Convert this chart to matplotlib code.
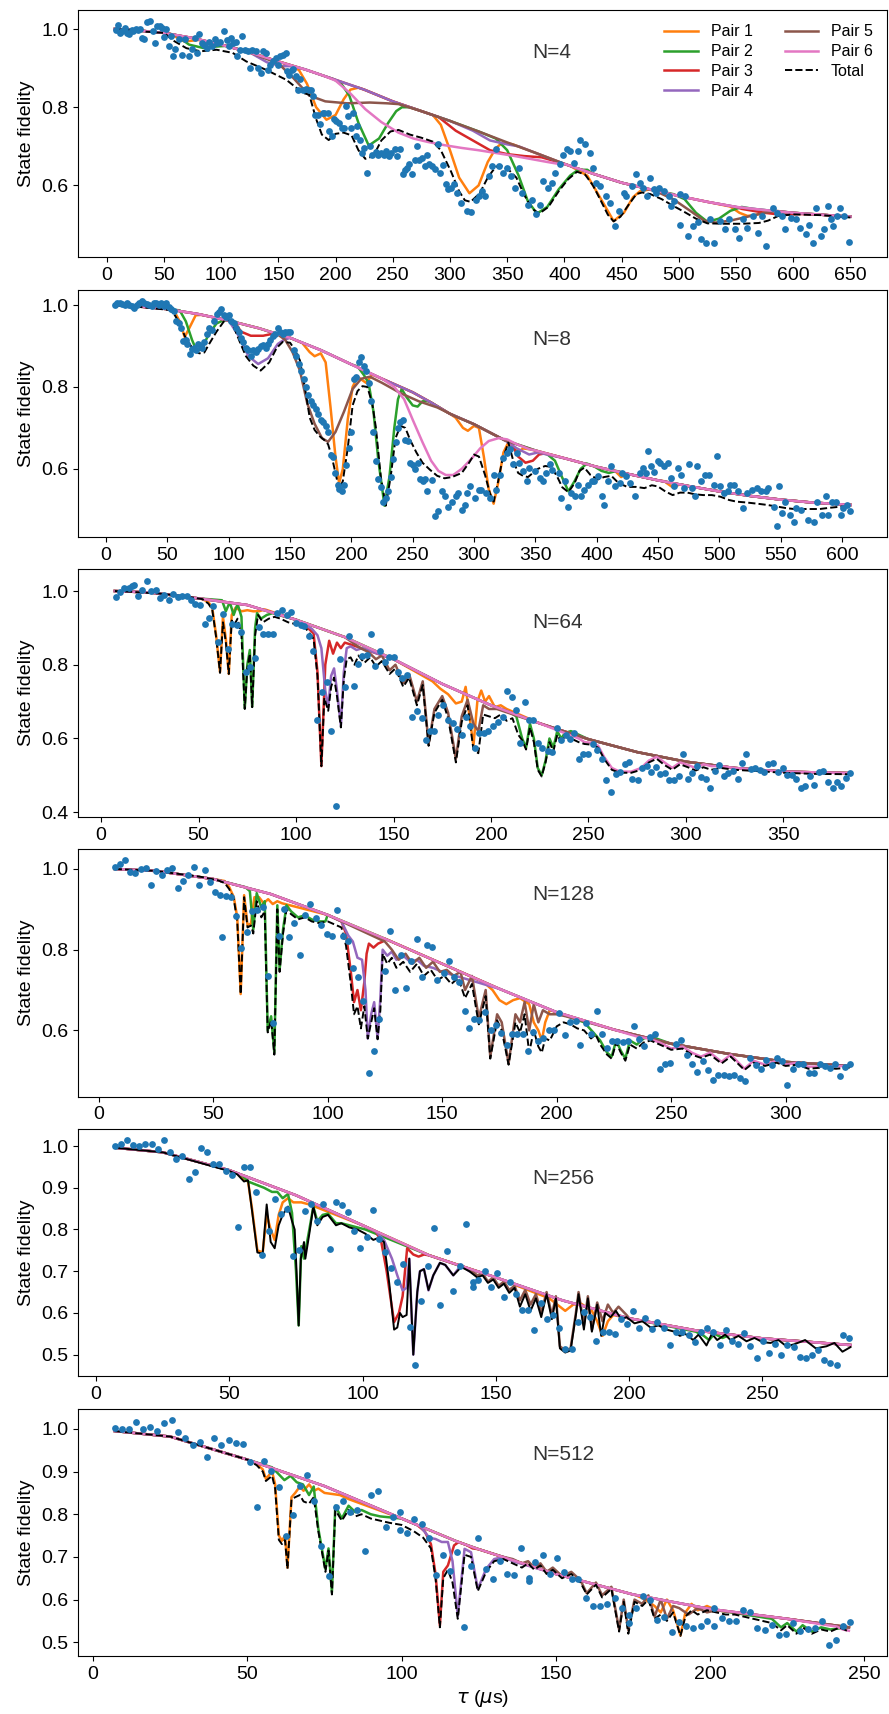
import matplotlib
matplotlib.use("Agg")
import matplotlib.pyplot as plt

plt.rcParams['font.family'] = ['Liberation Sans', 'DejaVu Sans']

# Labels and ticks
N_LABELS = ["N=4", "N=8", "N=64", "N=128", "N=256", "N=512"]
PAIR_LABELS = ["Pair 1", "Pair 2", "Pair 3", "Pair 4", "Pair 5", "Pair 6"]
X_TICKS = [list(range(0, 651, 50)), list(range(0, 601, 50)), list(range(0, 351, 50)),
           list(range(0, 301, 50)), list(range(0, 251, 50)), list(range(0, 251, 50))]
Y_TICKS = [[0.6, 0.8, 1.0], [0.6, 0.8, 1.0], [0.4, 0.6, 0.8, 1.0], [0.6, 0.8, 1.0],
           [0.5, 0.6, 0.7, 0.8, 0.9, 1.0], [0.5, 0.6, 0.7, 0.8, 0.9, 1.0]]

# ---------------- N=4 ----------------
N4_POINTS = [
    (7.8,0.997),(9.8,1.011),(11.6,0.991),(13.6,0.994),(15.6,1.003),(17.4,0.99),(19.4,0.986),(21.7,0.998),
    (23.1,0.994),(25.2,1.0),(27.2,0.998),(29.5,1.0),(31,0.977),(33,0.974),(35.3,1.017),(38.2,1.02),
    (40.5,0.994),(42,0.963),(44,1.007),(46.3,1.007),(48.3,1.003),(49.8,0.98),(51.5,1.0),(54.1,0.956),
    (56.1,0.981),(57.9,0.93),(59.9,0.949),(62.8,0.974),(65.7,0.934),(68.6,0.974),(71.5,0.93),(74.4,0.949),
    (77.3,0.977),(78.7,0.939),(81,0.986),(83,0.964),(85,0.96),(87.4,0.951),(89.7,0.966),(91.7,0.956),
    (94.6,0.974),(96.6,0.963),(99,0.966),(102.4,0.994),(104.7,0.973),(107,0.956),(108.2,0.977),(110.5,0.964),
    (112.8,0.966),(114,0.93),(116.3,0.947),(118.6,0.983),(120.7,0.947),(123.6,0.943),(125.6,0.9),(127.3,0.947),
    (130.2,0.943),(132.2,0.9),(135.1,0.888),(136.6,0.943),(138.9,0.939),(141.2,0.896),(142.9,0.909),(145.3,0.917),
    (147.6,0.926),(149.6,0.909),(151.6,0.93),(153.9,0.934),(156.3,0.939),(157.4,0.892),(159.1,0.883),(161.5,0.896),
    (163.2,0.898),(165.5,0.879),(167,0.845),(169.3,0.871),(171.9,0.845),(174.2,0.847),(176.5,0.845),(178.5,0.845),
    (180.6,0.828),(182.3,0.781),(184.3,0.781),(186.3,0.756),(188.7,0.786),(190.1,0.786),(193,0.786),(194.4,0.739),
    (196.8,0.726),(198.8,0.769),(200.8,0.764),(203.1,0.76),(205.4,0.747),(207.5,0.747),(208.9,0.803),(211.2,0.777),
    (213.3,0.747),(215.3,0.786),(217.6,0.726),(219,0.753),(221.1,0.717),(223.4,0.682),(224.8,0.696),(227.7,0.632),
    (229.7,0.7),(232,0.679),(234.9,0.685),(237.3,0.679),(239.3,0.683),(242.2,0.679),(244.2,0.688),(246.5,0.675),
    (248.8,0.683),(251.7,0.692),(253.8,0.675),(256.7,0.694),(258.7,0.628),(260.4,0.639),(262.4,0.645),(264.5,0.654),
    (266.8,0.628),(269.1,0.666),(271.1,0.7),(273.1,0.666),(275.5,0.671),(277.8,0.649),(279.8,0.679),(281.3,0.654),
    (284.1,0.649),(287,0.641),(289.4,0.705),(291.4,0.632),(294.3,0.651),(296.6,0.603),(298.6,0.59),(300.9,0.594),
    (303.2,0.603),(305.8,0.581),(310,0.556),(315,0.534),(318,0.533),(323,0.564),(325,0.573),(328,0.585),
    (331,0.573),(334,0.624),(337,0.65),(340,0.692),(343,0.65),(346,0.632),(350,0.645),(353,0.624),
    (357,0.594),(360,0.645),(363,0.581),(368,0.551),(372,0.564),(375,0.526),(379,0.551),(381,0.611),
    (386,0.594),(389,0.607),(392,0.632),(396,0.654),(399,0.679),(402,0.692),(405,0.688),(408,0.658),
    (412,0.688),(414,0.717),(418,0.705),(422,0.683),(425,0.645),(428,0.607),(431,0.598),(436,0.573),
    (440,0.556),(444,0.496),(448,0.534),(452,0.581),(454,0.573),(459,0.598),(463,0.628),(466,0.607),
    (469,0.594),(472,0.573),(475,0.62),(478,0.59),(480,0.581),(483,0.594),(487,0.585),(491,0.573),
    (493,0.547),(496,0.56),(501,0.577),(505,0.573),(501,0.498),(508,0.47),(512,0.496),(517,0.506),
    (519,0.462),(524,0.454),(527,0.513),(531,0.454),(536,0.509),(540,0.488),(544,0.513),(549,0.488),
    (553,0.466),(556,0.513),(560,0.492),(565,0.522),(569,0.479),(573,0.522),(576,0.445),(582,0.543),
    (586,0.53),(590,0.522),(593,0.488),(598,0.517),(602,0.513),(606,0.492),(611,0.475),(614,0.498),
    (617,0.454),(620,0.543),(624,0.47),(627,0.488),(630,0.547),(633,0.513),(635,0.496),(638,0.522),
    (641,0.543),(644,0.522),(649,0.455)]
N4_ENV = [(7,1.0),(25,0.997),(50,0.99),(75,0.977),(100,0.96),(125,0.94),(150,0.917),(175,0.895),(200,0.87),
          (225,0.845),(250,0.815),(275,0.79),(300,0.765),(325,0.738),(350,0.71),(375,0.683),(400,0.655),
          (425,0.63),(450,0.607),(475,0.59),(500,0.573),(525,0.558),(550,0.545),(575,0.537),(600,0.53),
          (625,0.525),(650,0.52)]
N4_PAIR1 = [[(55,0.988),(68,0.968),(80,0.972)],
            [(160,0.907),(168,0.895),(175,0.86),(183,0.80),(192,0.768),(200,0.78),(207,0.82),(213,0.845),(220,0.85)],
            [(285,0.78),(292,0.755),(300,0.69),(308,0.62),(317,0.58),(325,0.6),(333,0.66),(340,0.695),(346,0.71),(355,0.705)],
            [(405,0.65),(420,0.625),(432,0.565),(443,0.509),(452,0.53),(460,0.57),(466,0.585),(475,0.59)],
            [(545,0.546),(553,0.53),(560,0.522),(568,0.525),(578,0.535)]]
N4_PAIR2 = [[(60,0.985),(72,0.96),(85,0.951),(95,0.955),(105,0.957)],
            [(198,0.872),(205,0.86),(212,0.83),(220,0.76),(229,0.702),(238,0.72),(246,0.76),(253,0.79),(258,0.80),(265,0.80)],
            [(340,0.72),(350,0.69),(360,0.625),(368,0.56),(376,0.528),(385,0.545),(395,0.59),(405,0.625),(412,0.64),(420,0.64)],
            [(495,0.578),(505,0.565),(515,0.53),(525,0.507),(535,0.515),(545,0.535),(555,0.545),(565,0.54)]]
N4_PAIR3 = [[(290,0.775),(305,0.74),(320,0.715),(335,0.69),(350,0.68),(365,0.675),(380,0.672)],
            [(555,0.54),(575,0.53),(590,0.525),(605,0.527)]]
N4_PAIR4 = [[(125,0.94),(140,0.915),(152,0.905),(162,0.905),(172,0.898)],
            [(320,0.74),(335,0.715),(350,0.705),(360,0.7)]]
N4_PAIR5 = [[(150,0.912),(163,0.875),(177,0.83),(191,0.815),(210,0.81),(230,0.812),(245,0.81),(255,0.808)],
            [(470,0.593),(480,0.585),(495,0.565),(510,0.535),(522,0.51),(532,0.505),(545,0.51),(560,0.52),(575,0.53),(585,0.535)]]
N4_PAIR6 = [[(190,0.88),(200,0.868),(213,0.835),(226,0.795),(240,0.762),(255,0.735),(268,0.72),(281,0.711),
             (295,0.703),(310,0.696),(325,0.69),(340,0.683),(355,0.676),(370,0.668),(385,0.66),(397,0.654)]]
N4_TOTAL = [(7,1.0),(20,0.998),(35,0.993),(50,0.99),(59,0.969),(69.6,0.951),(82,0.943),(96,0.947),(110,0.939),
            (122,0.917),(139,0.896),(157,0.87),(166,0.849),(171,0.837),(177,0.832),(183,0.77),(188,0.73),
            (194,0.716),(200,0.732),(207,0.735),(214,0.728),(220,0.69),(226,0.668),(233,0.675),(240,0.715),
            (248,0.738),(255,0.742),(265,0.73),(275,0.722),(285,0.712),(292,0.69),(301,0.635),(308,0.585),
            (313,0.562),(318,0.558),(326,0.58),(333,0.62),(340,0.648),(346,0.65),(352,0.638),(358,0.62),
            (365,0.575),(372,0.54),(378,0.528),(386,0.545),(395,0.585),(403,0.615),(411,0.635),(418,0.628),
            (425,0.6),(432,0.56),(438,0.525),(443,0.508),(449,0.52),(456,0.55),(463,0.578),(468,0.582),
            (475,0.578),(485,0.565),(495,0.548),(505,0.532),(515,0.515),(525,0.503),(540,0.502),(555,0.502),
            (570,0.504),(578,0.51),(587,0.522),(600,0.526),(625,0.524),(650,0.518)]

# ---------------- N=8 ----------------
N8_POINTS = [
    (7,1.0),(9,1.005),(11,1.004),(13,1.003),(15,1.0),(17,1.006),(19,1.0),(21,0.998),(23,0.992),(25,1.0),
    (27,1.004),(29,1.01),(31,1.006),(33,1.002),(35,1.0),(37,0.998),(39,1.004),(41,1.006),(43,1.0),(45,1.004),
    (47,0.998),(49,1.005),(51,0.995),(53,0.99),(55,0.985),(57,0.962),(59,0.955),(61,0.945),(63,0.912),(65,0.915),
    (66,0.905),(68,0.88),(70,0.893),(72,0.895),(73,0.89),(75,0.905),(77,0.9),(78,0.895),(80,0.91),(82,0.93),
    (84,0.945),(86,0.94),(88,0.96),(90,0.978),(92,0.983),(94,0.99),(96,0.975),(98,0.97),(100,0.975),(102,0.96),
    (104,0.955),(106,0.945),(108,0.935),(110,0.92),(112,0.91),(114,0.895),(116,0.89),(118,0.875),(120,0.89),
    (122,0.885),(124,0.893),(126,0.9),(128,0.903),(130,0.895),(132,0.905),(134,0.915),(136,0.925),(138,0.93),
    (140,0.945),(142,0.935),(144,0.93),(146,0.935),(148,0.935),(150,0.935),(153,0.89),(155,0.875),(157,0.855),
    (159,0.84),(161,0.82),(163,0.80),(165,0.78),(167,0.765),(169,0.755),(171,0.745),(173,0.735),(175,0.72),
    (177,0.715),(179,0.705),(181,0.69),(183,0.635),(185,0.63),(187,0.59),(189,0.56),(190,0.55),(192,0.545),
    (194,0.56),(196,0.61),(198,0.65),(200,0.69),(202,0.82),(204,0.825),(206,0.86),(208,0.872),(210,0.85),
    (212,0.84),(214,0.81),(216,0.765),(218,0.69),(220,0.62),(222,0.575),(224,0.555),(226,0.52),(228,0.53),
    (230,0.545),(232,0.58),(234,0.625),(236,0.665),(238,0.7),(240,0.715),(242,0.72),(244,0.67),(246,0.668),
    (248,0.615),(250,0.61),(252,0.60),(254,0.615),(256,0.575),(258,0.57),(260,0.575),(262,0.545),
    (266,0.574),(268,0.484),(271,0.496),(274,0.545),(276,0.533),(279,0.508),(282,0.52),(285,0.533),(287,0.541),
    (290,0.5),(293,0.512),(294,0.541),(297,0.557),(301,0.529),(304,0.549),(306,0.549),(310,0.541),(313,0.529),
    (316,0.586),(318,0.549),(321,0.586),(324,0.627),(327,0.639),(329,0.648),(332,0.611),(335,0.639),(337,0.615),
    (340,0.594),(343,0.57),(345,0.602),(350,0.594),(354,0.578),(356,0.57),(359,0.59),(362,0.611),(364,0.598),
    (369,0.59),(371,0.529),(374,0.57),(377,0.508),(379,0.541),(382,0.533),(385,0.561),(387,0.533),(390,0.549),
    (393,0.561),(396,0.57),(398,0.57),(401,0.582),(404,0.533),(406,0.512),(409,0.57),(412,0.607),(415,0.557),
    (419,0.566),(421,0.59),(424,0.582),(427,0.566),(431,0.533),(435,0.59),(438,0.602),(440,0.59),(442,0.643),
    (444,0.607),(447,0.592),(450,0.619),(452,0.615),(455,0.607),(458,0.615),(461,0.578),(463,0.557),(466,0.602),
    (469,0.586),(471,0.553),(475,0.611),(478,0.553),(480,0.533),(482,0.607),(485,0.57),(488,0.586),(492,0.586),
    (496,0.561),(498,0.631),(501,0.557),(504,0.541),(507,0.545),(509,0.561),(512,0.561),(515,0.545),(519,0.504),
    (523,0.541),(527,0.549),(531,0.553),(534,0.545),(538,0.545),(540,0.553),(545,0.508),(547,0.461),(549,0.557),
    (551,0.492),(554,0.52),(558,0.488),(561,0.471),(563,0.504),(567,0.5),(572,0.475),(577,0.471),(580,0.52),
    (584,0.488),(587,0.533),(589,0.488),(592,0.52),(595,0.52),(599,0.488),(601,0.504),(604,0.512),(607,0.496)]
N8_ENV = [(7,1.0),(25,0.997),(50,0.99),(75,0.978),(100,0.962),(125,0.943),(150,0.92),(175,0.89),(200,0.855),
          (225,0.82),(250,0.787),(265,0.762),(280,0.735),(300,0.709),(325,0.67),(350,0.645),(375,0.625),
          (400,0.605),(425,0.588),(450,0.572),(475,0.558),(500,0.545),(525,0.534),(550,0.525),(575,0.518),
          (607,0.512)]
N8_PAIR1 = [[(55,0.988),(60,0.96),(64,0.922),(68,0.945),(73,0.975),(78,0.976)],
            [(160,0.907),(166,0.885),(170,0.875),(175,0.882),(179,0.86),(183,0.75),(187,0.63),(190,0.565),
             (193,0.6),(197,0.72),(201,0.80),(205,0.825),(212,0.81),(217,0.83)],
            [(285,0.725),(291,0.70),(295,0.693),(300,0.705),(304,0.70),(308,0.63),(312,0.55),(316,0.515),
             (320,0.57),(324,0.64),(328,0.665),(332,0.655),(336,0.64),(340,0.65),(345,0.648)],
            [(415,0.595),(420,0.58),(425,0.588)],
            [(455,0.57),(462,0.555),(468,0.562)]]
N8_PAIR2 = [[(60,0.987),(65,0.96),(70,0.915),(74,0.887),(78,0.895),(84,0.93),(90,0.955),(95,0.962)],
            [(205,0.85),(210,0.83),(214,0.81),(218,0.74),(222,0.62),(227,0.51),(231,0.58),(235,0.70),(238,0.77),
             (241,0.795),(245,0.775),(250,0.755),(254,0.752),(258,0.765),(263,0.765)],
            [(360,0.635),(366,0.62),(371,0.585),(377,0.545),(382,0.57),(387,0.6),(392,0.613),(398,0.606),
             (404,0.595),(410,0.59),(416,0.595)]]
N8_PAIR3 = [[(105,0.958),(110,0.935),(118,0.925),(128,0.925),(136,0.93),(142,0.928)],
            [(330,0.665),(336,0.63),(342,0.615),(348,0.62),(353,0.635),(358,0.638)]]
N8_PAIR4 = [[(100,0.962),(108,0.925),(116,0.875),(124,0.856),(132,0.87),(140,0.905),(145,0.915)],
            [(325,0.67),(335,0.65),(345,0.635),(352,0.64)]]
N8_PAIR5 = [[(140,0.928),(146,0.915),(152,0.885),(158,0.84),(164,0.76),(170,0.71),(176,0.675),(181,0.666),
             (187,0.69),(194,0.74),(201,0.795),(208,0.82),(215,0.825),(225,0.81),(240,0.785),(255,0.765),
             (270,0.75),(285,0.728)]]
N8_PAIR6 = [[(225,0.82),(235,0.80),(243,0.77),(250,0.72),(258,0.665),(265,0.62),(271,0.595),(277,0.585),
             (283,0.585),(290,0.6),(298,0.625),(305,0.65),(312,0.668),(320,0.675),(327,0.672),(335,0.66),
             (345,0.648)]]
N8_TOTAL = [(7,1.0),(25,0.996),(45,0.99),(52,0.988),(56,0.975),(60,0.955),(64,0.925),(68,0.905),(72,0.888),
            (76,0.882),(80,0.884),(84,0.905),(90,0.935),(96,0.96),(101,0.963),(105,0.94),(109,0.91),(114,0.875),
            (120,0.852),(126,0.84),(133,0.86),(139,0.895),(144,0.91),(150,0.908),(154,0.89),(158,0.865),
            (162,0.80),(166,0.725),(170,0.695),(174,0.68),(178,0.67),(181,0.66),(184,0.63),(187,0.59),(190,0.55),
            (193,0.57),(197,0.65),(201,0.755),(205,0.79),(209,0.802),(213,0.8),(217,0.76),(220,0.70),(224,0.58),
            (228,0.51),(232,0.58),(236,0.675),(240,0.705),(244,0.70),(248,0.67),(253,0.64),(258,0.615),
            (264,0.598),(270,0.583),(276,0.577),(282,0.58),(290,0.59),(296,0.615),(300,0.635),(304,0.63),
            (309,0.585),(313,0.54),(316,0.52),(319,0.56),(323,0.62),(328,0.664),(332,0.62),(336,0.59),(340,0.583),
            (344,0.58),(348,0.59),(352,0.6),(358,0.607),(363,0.605),(368,0.58),(372,0.555),(377,0.543),
            (382,0.565),(386,0.595),(390,0.603),(395,0.585),(401,0.574),(406,0.58),(412,0.583),(418,0.565),
            (425,0.556),(432,0.556),(439,0.553),(445,0.56),(450,0.557),(456,0.545),(462,0.536),(468,0.542),
            (474,0.542),(480,0.538),(487,0.536),(494,0.536),(501,0.532),(508,0.524),(514,0.52),(522,0.518),
            (531,0.515),(539,0.512),(547,0.508),(555,0.504),(561,0.502),(570,0.502),(582,0.502),(590,0.505),
            (600,0.508),(607,0.506)]

# ---------------- N=64 ----------------
N64_POINTS = [
    (7.6,0.985),(9.7,0.998),(11.9,1.007),(14.1,1.009),(15.6,1.014),(16.9,1.016),(19,0.986),(21.2,1.003),
    (23.4,1.028),(25.8,1.0),(28,1.003),(30.2,0.98),(32.5,0.989),(34.7,0.976),(37,0.991),(39.3,0.985),
    (41.5,0.986),(44.1,0.986),(46.3,0.976),(48.3,0.965),(50.8,0.962),(53.4,0.911),(55.6,0.928),(57.6,0.959),
    (60.2,0.863),(62.7,0.937),(65.3,0.842),(67.3,0.91),(69.5,0.908),(72,0.89),(74.2,0.779),(76.6,0.795),
    (78.8,0.818),(81,0.903),(83.1,0.883),(85.6,0.883),(88.1,0.883),(90.3,0.941),(92.9,0.949),(95.3,0.935),
    (97.5,0.944),(100,0.912),(102.5,0.908),(104.2,0.905),(106.8,0.878),(108.8,0.838),(111,0.649),(113.2,0.727),
    (115.8,0.754),(117.8,0.619),(120.3,0.418),(122.4,0.816),(124.9,0.739),(127.1,0.878),(129.7,0.743),
    (131.9,0.802),(133.9,0.824),(136.4,0.827),(138.6,0.883),(140.7,0.797),(143.2,0.836),(145.8,0.808),
    (147.8,0.82),(150,0.822),(152.5,0.781),(154.6,0.763),(156.8,0.772),(159.3,0.659),(161.9,0.675),
    (164.4,0.655),(166.6,0.596),(168.6,0.619),(170.8,0.621),(172.9,0.664),(175.4,0.691),(178,0.65),
    (180.5,0.641),(182.7,0.625),(185,0.61),(187.2,0.658),(189.4,0.634),(191.9,0.574),(194,0.614),
    (196.3,0.616),(198.6,0.619),(200.9,0.634),(203.4,0.646),(206,0.659),(208,0.729),(210.6,0.712),
    (212.8,0.676),(215,0.589),(217.4,0.7),(219.6,0.649),(221.8,0.649),(224.2,0.587),(226.4,0.574),
    (229,0.565),(231.5,0.562),(233.7,0.628),(235.8,0.596),(238.4,0.61),(240.6,0.598),(242.6,0.614),
    (245.2,0.544),(247.4,0.558),(250,0.558),(252.3,0.585),(254.5,0.569),(256.8,0.544),(259.1,0.488),
    (261.4,0.456),(263.9,0.504),(266.1,0.51),(268.5,0.531),(270.7,0.537),(272.5,0.49),(275.3,0.488),
    (277.6,0.519),(280.1,0.524),(282.2,0.508),(284.5,0.522),(286.9,0.504),(289.1,0.506),(291.5,0.486),
    (293.7,0.486),(296.3,0.499),(298.5,0.558),(300.9,0.49),(303.3,0.506),(305.7,0.526),(307.7,0.495),
    (310.1,0.49),(312.5,0.465),(314.7,0.513),(317.1,0.528),(319.3,0.497),(321.5,0.506),(324.1,0.513),
    (326.5,0.49),(328.7,0.533),(330.9,0.557),(333.3,0.517),(335.5,0.519),(338.1,0.515),(340.3,0.508),
    (342.3,0.531),(344.9,0.533),(347.4,0.508),(349.7,0.519),(352,0.501),(354.3,0.501),(356.5,0.49),
    (358.9,0.465),(361.1,0.472),(363.6,0.499),(365.7,0.474),(368.4,0.508),(370.4,0.513),(373,0.483),
    (375.2,0.465),(377.6,0.483),(379.8,0.47),(382,0.492),(384.4,0.506)]
N64_ENV = [(7,1.0),(25,0.996),(50,0.98),(75,0.962),(100,0.922),(125,0.875),(150,0.815),(175,0.748),(200,0.69),
           (225,0.641),(250,0.598),(275,0.563),(300,0.537),(325,0.52),(350,0.51),(384,0.506)]
N64_PAIR1 = [[(52,0.978),(55,0.97),(57,0.955),(59,0.88),(61,0.78),(62.5,0.93),(64,0.87),(65.5,0.775),
              (67,0.935),(69,0.955),(72,0.945),(75,0.948),(78,0.945),(81,0.945),(84,0.95)],
             [(160,0.785),(165,0.77),(170,0.755),(174,0.735),(178,0.72),(182,0.695),(185,0.70),(187,0.74),
              (189,0.66),(191,0.58),(193,0.70),(195,0.73),(197,0.70),(199,0.715),(202,0.685),(205,0.69),(208,0.68)]]
N64_PAIR2 = [[(62,0.975),(64,0.945),(66,0.97),(68,0.935),(70,0.965),(72,0.93),(73.7,0.682),(75,0.80),
              (76.3,0.84),(77.5,0.686),(79,0.90),(80,0.94),(82,0.925),(85,0.935),(88,0.94),(91,0.935)],
             [(210,0.67),(213,0.66),(216,0.60),(218,0.575),(220,0.64),(222,0.60),(224,0.52),(226,0.50),
              (228,0.54),(230,0.60),(232,0.575),(234,0.62),(236,0.60),(238,0.615),(241,0.62)]]
N64_PAIR3 = [[(104,0.912),(107,0.895),(109,0.885),(111,0.78),(113,0.525),(115,0.80),(117,0.865),(119,0.83),
              (121,0.86),(123,0.845),(125,0.86),(128,0.855)]]
N64_PAIR4 = [[(108,0.898),(111,0.88),(113,0.845),(115,0.73),(116.5,0.685),(118,0.77),(119.5,0.79),(121,0.73),
              (123,0.635),(124.5,0.78),(126,0.845),(128,0.85),(131,0.84),(134,0.845)]]
N64_PAIR5 = [[(133,0.845),(137,0.835),(141,0.815),(144,0.825),(148,0.785),(151,0.80),(155,0.75),(158,0.775),
              (162,0.70),(165,0.755),(168,0.585),(171,0.68),(175,0.715),(178,0.67),(182,0.545),(185,0.66),
              (188,0.705),(191,0.64),(193.5,0.62),(196,0.69),(199,0.68),(203,0.68)]]
N64_PAIR6 = [[(240,0.61),(245,0.60),(248,0.59),(252,0.588),(255,0.58),(258,0.55),(262,0.52),(266,0.51),
              (272,0.51),(277,0.52),(281,0.54),(285,0.55),(289,0.535),(293,0.52),(297,0.535),(301,0.528),
              (305,0.52),(309,0.53),(313,0.525),(318,0.525),(322,0.522)]]
N64_TOTAL = [(7,1.0),(15,0.998),(30,0.993),(45,0.984),(52,0.978),(55,0.966),(57,0.95),(59,0.875),(61,0.778),
             (62.5,0.915),(64,0.86),(65.5,0.775),(67,0.92),(68,0.905),(70,0.925),(72,0.88),(73.7,0.68),(75,0.79),
             (76.3,0.83),(77.5,0.685),(79,0.88),(80.5,0.935),(83,0.915),(86,0.925),(89,0.93),(92,0.925),(96,0.915),
             (100,0.91),(104,0.905),(107,0.885),(109,0.87),(111,0.77),(113,0.525),(114.5,0.71),(116.5,0.675),
             (118,0.74),(119.5,0.765),(121,0.715),(123,0.63),(124.5,0.76),(126,0.815),(128,0.82),(130,0.80),
             (132,0.825),(135,0.805),(138,0.82),(141,0.795),(144,0.81),(148,0.775),(151,0.79),(155,0.74),
             (158,0.765),(162,0.69),(165,0.745),(168,0.58),(171,0.67),(175,0.705),(178,0.655),(182,0.535),
             (185,0.645),(188,0.69),(191,0.57),(193.5,0.56),(196,0.665),(199,0.66),(202,0.655),(205,0.665),
             (208,0.648),(211,0.655),(214,0.61),(216,0.595),(218,0.57),(220,0.63),(222,0.59),(224,0.515),
             (226,0.497),(228,0.535),(230,0.59),(232,0.565),(234,0.61),(236,0.59),(238,0.605),(241,0.6),
             (245,0.59),(248,0.585),(252,0.583),(255,0.575),(258,0.545),(262,0.515),(266,0.507),(272,0.507),
             (277,0.515),(281,0.535),(285,0.545),(289,0.528),(293,0.515),(297,0.53),(301,0.522),(305,0.513),
             (309,0.522),(313,0.515),(318,0.52),(325,0.515),(335,0.512),(350,0.507),(365,0.504),(384,0.503)]

# ---------------- N=128 ----------------
N128_POINTS = [
    (7,1.004),(9.2,1.012),(11.3,1.021),(13.5,0.993),(16,0.989),(18.3,1.0),(20.8,1.002),(23,0.961),(25.1,0.996),
    (27.6,0.986),(29.8,0.998),(32.1,1.002),(34.6,0.952),(36.8,0.971),(39.2,0.985),(41.6,1.006),(43.8,0.959),
    (46.2,0.998),(48.4,0.967),(50.9,0.942),(53.1,0.936),(55.4,0.932),(53.8,0.831),(57.6,0.93),(60,0.884),
    (62.2,0.804),(64.7,0.843),(66.9,0.897),(69,0.899),(71.7,0.905),(74.1,0.734),(76,0.618),(78.6,0.833),
    (80.8,0.901),(83.3,0.831),(85.5,0.866),(87.9,0.787),(90.3,0.886),(92.4,0.912),(94.9,0.878),(97.1,0.86),
    (99.6,0.839),(101.9,0.833),(104.1,0.899),(106.5,0.835),(108.7,0.821),(110.9,0.754),(113.4,0.732),
    (115.6,0.672),(117.9,0.494),(120.3,0.55),(122.5,0.629),(125,0.746),(127.2,0.847),(129.5,0.7),(132,0.787),
    (134.2,0.705),(136.6,0.771),(138.8,0.827),(141.1,0.732),(143.3,0.812),(145.7,0.806),(147.8,0.724),
    (150.7,0.743),(152.9,0.773),(155.1,0.732),(157.2,0.719),(159.9,0.647),(161.9,0.606),(164.1,0.629),
    (166.2,0.627),(168.8,0.645),(171.3,0.602),(173.5,0.614),(175.8,0.594),(178.3,0.565),(180.4,0.59),
    (182.6,0.592),(185.1,0.59),(187.4,0.55),(189.6,0.596),(192,0.573),(194.2,0.581),(196.7,0.602),(199,0.6),
    (201.2,0.643),(203.6,0.589),(205.8,0.622),(208.3,0.624),(210.4,0.563),(213,0.619),(215.2,0.592),
    (217.4,0.648),(219.6,0.59),(222,0.557),(224.3,0.573),(226.5,0.574),(229,0.571),(231.2,0.573),(233.6,0.612),
    (235.8,0.578),(238.1,0.561),(240.6,0.583),(242.8,0.592),(245.2,0.505),(247.5,0.517),(249.7,0.52),
    (252.2,0.567),(254.3,0.577),(256.8,0.538),(259.1,0.517),(261.3,0.498),(263.8,0.524),(266,0.502),
    (268.4,0.476),(270.6,0.49),(272.9,0.49),(275.4,0.487),(277.5,0.49),(280,0.482),(282.2,0.474),(284.5,0.531),
    (287,0.515),(289.1,0.505),(291.6,0.526),(293.9,0.515),(296.1,0.531),(298.6,0.523),(300.7,0.464),
    (303.2,0.505),(305.4,0.516),(307.7,0.517),(310.1,0.495),(312.3,0.495),(314.8,0.516),(317.1,0.511),
    (319.3,0.507),(321.7,0.517),(323.9,0.488),(326.1,0.509),(328.3,0.517)]
N128_ENV = [(7,1.0),(25,0.995),(50,0.975),(75,0.938),(100,0.886),(125,0.827),(150,0.765),(175,0.703),(200,0.645),
            (225,0.602),(250,0.567),(275,0.542),(300,0.522),(328,0.512)]
N128_PAIR1 = [[(55,0.97),(57,0.955),(59,0.93),(60.5,0.88),(62,0.69),(63.5,0.935),(65,0.86),(66.5,0.865),(68,0.93),
               (70,0.93),(72,0.915),(74,0.925),(76,0.913),(78,0.92),(80,0.915)],
              [(168,0.72),(172,0.70),(175,0.675),(178,0.665),(181,0.675),(184,0.68)],
              [(188,0.665),(190,0.62),(192,0.60),(193.5,0.575),(195,0.62),(197,0.65)]]
N128_PAIR2 = [[(64,0.955),(66,0.945),(67.5,0.85),(69,0.94),(71,0.905),(72.5,0.92),(73.8,0.60),(75.3,0.635),
               (76.7,0.545),(78,0.91),(79,0.75),(80.5,0.85),(82,0.91),(84,0.895),(87,0.88),(90,0.885),(93,0.875),
               (96,0.87),(99,0.87)],
              [(212,0.62),(216,0.595),(219,0.575),(222,0.545),(224,0.535),(226,0.575),(228,0.55),(230,0.53),
               (232,0.575),(235,0.565),(238,0.58),(241,0.585)]]
N128_PAIR3 = [[(106,0.87),(108,0.84),(110,0.75),(111.5,0.67),(113,0.70),(114.5,0.65),(116,0.72),(117,0.79),
               (118,0.815),(120,0.805),(122,0.815),(124,0.82)]]
N128_PAIR4 = [[(106,0.87),(109,0.835),(111,0.82),(113,0.78),(115,0.775),(116.5,0.70),(117.5,0.58),(119,0.64),
               (120.3,0.67),(121.8,0.58),(123,0.68),(124,0.80),(126,0.785),(128,0.795),(130,0.775),(133,0.785),
               (136,0.77),(139,0.775),(142,0.76),(146,0.755),(150,0.745)]]
N128_PAIR5 = [[(125,0.82),(128,0.80),(131,0.775),(134,0.79),(137,0.765),(140,0.78),(143,0.755),(146,0.77),
               (149,0.745),(152,0.75),(155,0.735),(158,0.745),(160,0.70),(163,0.735),(166,0.63),(169,0.70),
               (171,0.535),(174,0.64),(176,0.62),(179,0.518),(182,0.64),(184,0.62),(186,0.67),(188,0.60),
               (190,0.665),(192,0.62),(194,0.65),(197,0.64),(200,0.64),(204,0.635)]]
N128_PAIR6 = [[(235,0.585),(240,0.58),(245,0.57),(250,0.555),(255,0.56),(259,0.545),(263,0.535),(267,0.545),
               (272,0.522),(276,0.54),(282,0.505),(286,0.525),(291,0.515),(296,0.525),(300,0.515),(305,0.52),
               (310,0.51)]]
N128_TOTAL = [(7,1.0),(25,0.995),(45,0.98),(52,0.972),(55,0.965),(57,0.95),(59,0.925),(60.5,0.87),(62,0.69),
              (63.5,0.93),(65,0.855),(66.5,0.86),(67.5,0.84),(69,0.92),(71,0.88),(72.5,0.895),(73.8,0.595),
              (75.3,0.625),(76.7,0.54),(78,0.90),(79,0.745),(80.5,0.84),(82,0.9),(84,0.888),(87,0.875),(90,0.88),
              (93,0.87),(96,0.866),(100,0.87),(104,0.86),(106,0.855),(108,0.81),(110,0.72),(111.5,0.64),(113,0.66),
              (114.5,0.605),(116,0.66),(117.5,0.58),(119,0.62),(120.3,0.655),(121.8,0.578),(123,0.65),(124,0.79),
              (126,0.765),(128,0.78),(130,0.755),(133,0.77),(136,0.745),(139,0.765),(142,0.735),(145,0.75),
              (148,0.725),(151,0.735),(154,0.715),(157,0.73),(160,0.68),(163,0.715),(166,0.615),(169,0.685),
              (171,0.53),(174,0.625),(176,0.60),(179,0.515),(182,0.62),(184,0.595),(186,0.64),(188,0.545),
              (190,0.60),(192,0.56),(193.5,0.545),(195,0.58),(197,0.575),(200,0.61),(203,0.62),(206,0.615),
              (209,0.605),(212,0.6),(215,0.58),(217,0.59),(219,0.565),(222,0.54),(224,0.53),(226,0.57),
              (228,0.545),(230,0.525),(232,0.565),(235,0.555),(238,0.57),(241,0.575),(245,0.565),(250,0.552),
              (255,0.555),(259,0.54),(263,0.532),(267,0.54),(272,0.518),(276,0.535),(282,0.502),(286,0.52),
              (291,0.512),(296,0.52),(300,0.512),(305,0.515),(310,0.505),(316,0.508),(322,0.505),(328,0.508)]

# ---------------- N=256 ----------------
N256_POINTS = [
    (7.2,1.0),(9.3,1.006),(11.5,1.014),(14,1.002),(16.2,1.0),(18.4,1.006),(20.9,1.006),(23.3,0.992),(25.4,1.014),
    (27.8,0.986),(30.1,0.969),(32.3,0.977),(34.8,0.922),(37,0.937),(39.2,0.996),(41.5,0.986),(43.9,0.956),
    (46.2,0.958),(48.6,0.94),(50.9,0.93),(53.1,0.806),(55.4,0.949),(57.7,0.949),(60,0.89),(62.3,0.74),
    (64.7,0.796),(67,0.873),(69.4,0.837),(71.5,0.85),(74,0.736),(76.2,0.752),(78.3,0.845),(80.8,0.86),(83,0.82),
    (85.3,0.86),(87.6,0.754),(89.9,0.865),(92.2,0.858),(94.4,0.842),(96.9,0.796),(99.1,0.756),(101.5,0.782),
    (103.7,0.846),(106.2,0.776),(108.4,0.746),(110.6,0.708),(113,0.675),(115.2,0.718),(117.6,0.567),
    (119.8,0.476),(122,0.628),(124.4,0.712),(126.9,0.804),(129.1,0.619),(131.6,0.748),(133.8,0.652),
    (136.6,0.712),(138.8,0.812),(141.3,0.675),(141.3,0.662),(143.4,0.678),(145.9,0.7),(148.1,0.663),
    (150.4,0.695),(152.9,0.638),(155.1,0.674),(157.5,0.646),(159.8,0.608),(162.2,0.608),(164.3,0.559),
    (166.8,0.623),(169,0.586),(171.4,0.595),(173.7,0.564),(176.1,0.514),(178.4,0.514),(180.7,0.579),
    (182.9,0.602),(185.4,0.59),(187.6,0.532),(190,0.555),(192.4,0.555),(194.7,0.55),(197,0.586),(199.3,0.574),
    (201.6,0.604),(203.8,0.564),(206,0.587),(208.4,0.562),(210.6,0.578),(213,0.564),(215.3,0.524),(217.7,0.554),
    (219.9,0.555),(222.4,0.548),(224.7,0.53),(227,0.555),(229.3,0.564),(231.6,0.555),(233.9,0.522),(236.3,0.559),
    (238.6,0.532),(240.8,0.526),(243.2,0.552),(245.4,0.52),(247.8,0.491),(250.1,0.532),(252.5,0.504),
    (254.7,0.526),(257.1,0.498),(259.3,0.524),(261.7,0.518),(263.9,0.494),(266.3,0.491),(268.6,0.499),
    (270.9,0.51),(273.2,0.486),(275.5,0.48),(277.8,0.475),(280.1,0.546),(282.4,0.539)]
N256_ENV = [(7,0.996),(25,0.985),(50,0.942),(75,0.882),(100,0.81),(125,0.738),(150,0.685),(175,0.63),(200,0.587),
            (225,0.558),(250,0.539),(283,0.523)]
N256_PAIR1 = [[(53,0.935),(55.5,0.92),(57,0.915),(58.5,0.85),(60.5,0.75),(62.5,0.745),(64,0.835),(65.5,0.80),
               (67,0.775),(68.5,0.835),(70,0.865),(72,0.875),(74,0.865),(77,0.865),(80,0.86)],
              [(170,0.635),(173,0.62),(176,0.605),(179,0.62),(182,0.622)],
              [(186,0.605),(188,0.58),(190,0.545),(192,0.58),(194,0.595)]]
N256_PAIR2 = [[(55,0.928),(57,0.915),(59,0.91),(61,0.905),(63,0.90),(66,0.89),(68,0.89),(70,0.875),(72,0.885),
               (73.5,0.84),(75,0.70),(76,0.57),(77,0.76),(78,0.73),(80,0.80),(81.5,0.855),(83,0.82),(85,0.835),
               (87,0.838),(90,0.815),(92,0.815),(95,0.81),(98,0.805),(101,0.80)],
              [(225,0.555),(228,0.545),(230,0.535),(232,0.55),(235,0.54),(238,0.548)]]
N256_PAIR3 = [[(105,0.795),(107,0.77),(109,0.70),(111.8,0.578),(113.6,0.60),(115,0.64),(116.7,0.755),(119,0.74),
               (121,0.735),(123,0.74)]]
N256_PAIR4 = [[(105,0.795),(108,0.775),(111,0.73),(113,0.69),(115,0.654),(116.5,0.66),(117.5,0.73),(119,0.50),
               (120.5,0.65),(121.5,0.70),(123,0.705),(124.7,0.654),(126.5,0.69),(129,0.72),(131,0.715),(134,0.69),
               (137,0.715),(140,0.70),(143,0.70)]]
N256_PAIR5 = [[(140,0.705),(143,0.69),(145,0.695),(147,0.675),(149,0.685),(151,0.665),(153,0.675),(155,0.655),
               (157,0.665),(159,0.63),(161,0.655),(163,0.62),(165,0.645),(167,0.60),(169,0.65),(171,0.595),
               (172.5,0.64),(174,0.52),(176,0.51),(178,0.515),(180,0.60),(181,0.65),(183,0.57),(184.5,0.64),
               (186,0.56),(188,0.625),(190,0.58),(192,0.62),(194,0.60),(196,0.615),(199,0.595)]]
N256_PAIR6 = []
N256_TOTAL = [(7,0.996),(25,0.985),(50,0.94),(53,0.932),(55.5,0.915),(57,0.918),(58.5,0.845),(60.5,0.745),
              (62.5,0.742),(64,0.86),(65.5,0.77),(67,0.755),(68.5,0.81),(70,0.835),(72,0.855),(73.5,0.82),
              (74.5,0.80),(75.2,0.70),(76,0.57),(76.8,0.73),(78,0.77),(78.5,0.73),(80,0.79),(81.5,0.855),(83,0.81),
              (85,0.83),(87,0.835),(90,0.81),(92,0.815),(95,0.805),(98,0.80),(101,0.79),(104,0.775),(106,0.78),
              (108,0.77),(110,0.67),(111.8,0.56),(113,0.565),(114,0.6),(115,0.59),(116.5,0.595),(117.5,0.73),
              (119,0.50),(120.5,0.65),(121.5,0.70),(123,0.705),(124.7,0.655),(126.5,0.69),(129,0.72),(131,0.715),
              (134,0.69),(137,0.71),(140,0.70),(143,0.685),(145,0.69),(147,0.672),(149,0.68),(151,0.66),(153,0.67),
              (155,0.648),(157,0.66),(159,0.615),(161,0.645),(163,0.605),(165,0.635),(167,0.59),(169,0.645),
              (171,0.585),(172.5,0.635),(174,0.515),(176,0.505),(178,0.51),(180,0.595),(181,0.645),(183,0.56),
              (184.5,0.635),(186,0.555),(188,0.62),(189.5,0.545),(191,0.6),(193,0.59),(195,0.605),(197,0.585),
              (199,0.59),(202,0.575),(205,0.58),(208,0.565),(211,0.57),(214,0.56),(217,0.555),(219,0.545),
              (221,0.55),(224,0.535),(226,0.548),(229,0.522),(231,0.55),(233,0.535),(236,0.548),(238,0.535),
              (241,0.545),(244,0.532),(247,0.54),(250,0.53),(253,0.528),(256,0.535),(259,0.52),(262,0.525),
              (266,0.535),(270,0.515),(274,0.52),(277,0.528),(280,0.507),(283,0.518)]

# ---------------- N=512 ----------------
N512_POINTS = [
    (7,1.002),(9.2,1.0),(11.5,1.0),(13.8,1.017),(16.1,1.0),(18.5,1.005),(20.8,0.994),(23.1,1.014),(25.5,1.021),
    (27.6,0.992),(29.9,0.978),(32.3,0.963),(34.6,0.969),(36.9,0.934),(39.2,0.978),(41.6,0.963),(43.9,0.974),
    (46.2,0.966),(48.5,0.964),(50.9,0.922),(53.1,0.816),(55.5,0.924),(57.8,0.902),(60.1,0.864),(62.4,0.75),
    (64.7,0.798),(67,0.867),(69.4,0.892),(71.6,0.832),(74,0.725),(76.3,0.655),(78.7,0.816),(81,0.83),
    (83.3,0.805),(85.6,0.811),(88,0.714),(90.1,0.846),(92.5,0.854),(94.8,0.77),(97.1,0.793),(99.5,0.805),
    (99.5,0.763),(101.8,0.756),(104.1,0.788),(106.5,0.777),(108.8,0.744),(111.1,0.658),(113.4,0.705),
    (115.7,0.668),(118.1,0.711),(120.2,0.535),(122.5,0.678),(124.9,0.745),(127.2,0.672),(129.5,0.648),
    (131.8,0.69),(134.2,0.659),(136.5,0.658),(138.8,0.721),(141.2,0.644),(141.2,0.651),(143.4,0.688),
    (145.8,0.705),(148.1,0.66),(150.4,0.698),(152.7,0.664),(155.1,0.648),(157.3,0.648),(159.7,0.604),
    (162.1,0.584),(164.3,0.584),(166.7,0.59),(169.1,0.604),(171.3,0.58),(173.7,0.544),(173.7,0.563),(176,0.58),
    (178.3,0.609),(180.5,0.598),(182.9,0.552),(185.2,0.56),(187.5,0.525),(189.9,0.547),(192.1,0.538),
    (194.5,0.533),(196.9,0.537),(199.1,0.551),(201.4,0.58),(201.4,0.539),(203.8,0.556),(206,0.549),(208.4,0.549),
    (210.7,0.576),(213,0.572),(215.3,0.534),(217.7,0.529),(220,0.541),(222.3,0.518),(224.7,0.52),(226.9,0.545),
    (229.3,0.527),(231.6,0.531),(233.9,0.533),(236.2,0.551),(238.6,0.494),(240.8,0.506),(243.2,0.539),
    (245.5,0.547)]
N512_ENV = [(7,0.995),(25,0.982),(50,0.928),(75,0.866),(100,0.79),(118,0.736),(125,0.718),(150,0.66),(175,0.612),
            (200,0.578),(225,0.555),(245,0.535)]
N512_PAIR1 = [[(53,0.918),(55,0.905),(56,0.883),(58,0.90),(59,0.87),(60.2,0.75),(61.2,0.738),(62.2,0.75),(63,0.675),
               (64.3,0.84),(65.5,0.85),(67,0.865),(68.2,0.855),(70,0.87),(71.5,0.855),(73,0.86),(75,0.85),(77,0.848),
               (80,0.845),(83,0.835)],
              [(176,0.61),(179,0.6),(182,0.585),(184,0.57),(186,0.6),(188,0.575),(190.4,0.516),(192,0.57),
               (194,0.59),(196,0.575),(199,0.585),(202,0.575)]]
N512_PAIR2 = [[(58,0.91),(60,0.895),(62,0.88),(64,0.89),(66,0.875),(68,0.87),(70,0.845),(71.5,0.865),(73,0.766),
               (75.3,0.672),(76.3,0.72),(77.4,0.617),(78.5,0.82),(80.6,0.79),(82.8,0.82),(85,0.805),(87,0.81),
               (90,0.80),(93,0.795)],
              [(220,0.555),(223,0.535),(225,0.545),(228,0.525),(230,0.54),(233,0.525),(236,0.535),(239,0.53)]]
N512_PAIR3 = [[(105,0.775),(107.5,0.76),(109.5,0.73),(111,0.66),(112.4,0.539),(113.5,0.665),(115,0.68),(117,0.727),
               (118.5,0.735),(121,0.728),(123,0.72)]]
N512_PAIR4 = [[(106,0.772),(109,0.745),(111,0.742),(113,0.735),(115,0.735),(116.5,0.69),(118.2,0.562),(120.4,0.719),
               (122.5,0.711),(124.7,0.625),(127.4,0.672),(130,0.695),(133,0.70),(136,0.69)]]
N512_PAIR5 = [[(133,0.70),(136,0.695),(139,0.685),(141,0.69),(143,0.675),(145,0.685),(147,0.665),(149,0.675),
               (152,0.655),(155,0.665),(158,0.645),(160,0.615),(163,0.64),(165,0.61),(168,0.63),(170.5,0.53),
               (172,0.60),(173.5,0.528),(175.5,0.60),(178,0.59),(180,0.61),(182,0.56),(184,0.60),(186,0.555),
               (188,0.585),(190,0.58),(193,0.565),(196,0.58),(199,0.57),(202,0.575)]]
N512_PAIR6 = [[(238,0.54),(241,0.537),(243,0.53),(245,0.527)]]
N512_TOTAL = [(7,0.995),(25,0.982),(50,0.928),(53,0.915),(55,0.90),(56,0.878),(58,0.89),(59,0.86),(60.2,0.74),
              (61.2,0.73),(62.2,0.74),(63,0.672),(64.3,0.835),(65.5,0.84),(67,0.845),(68.2,0.83),(70,0.825),
              (71.5,0.84),(73,0.76),(75.3,0.665),(76.3,0.715),(77.4,0.612),(78.5,0.81),(80.6,0.785),(82.8,0.81),
              (85,0.795),(87,0.80),(90,0.79),(93,0.785),(96,0.78),(100,0.775),(104,0.76),(107,0.745),(109.5,0.72),
              (111,0.65),(112.4,0.535),(113.5,0.65),(115,0.67),(116.5,0.64),(118.2,0.555),(120.4,0.705),
              (122.5,0.70),(124.7,0.62),(127.4,0.665),(130,0.69),(133,0.695),(136,0.685),(139,0.675),(141,0.685),
              (143,0.67),(145,0.68),(147,0.66),(149,0.67),(152,0.65),(155,0.66),(158,0.64),(160,0.612),(163,0.635),
              (165,0.605),(168,0.625),(170.5,0.525),(172,0.595),(173.5,0.52),(175.5,0.595),(178,0.585),(180,0.6),
              (182,0.555),(184,0.565),(186,0.55),(188,0.57),(190.4,0.515),(192,0.56),(194,0.575),(196,0.565),
              (199,0.575),(202,0.57),(205,0.565),(208,0.565),(211,0.56),(214,0.555),(217,0.55),(220,0.545),
              (223,0.528),(225,0.54),(228,0.52),(230,0.535),(233,0.52),(236,0.53),(239,0.525),(242,0.535),
              (245,0.525)]

POINTS = [N4_POINTS, N8_POINTS, N64_POINTS, N128_POINTS, N256_POINTS, N512_POINTS]
ENVS = [N4_ENV, N8_ENV, N64_ENV, N128_ENV, N256_ENV, N512_ENV]
PAIRS = [[N4_PAIR1, N4_PAIR2, N4_PAIR3, N4_PAIR4, N4_PAIR5, N4_PAIR6],
         [N8_PAIR1, N8_PAIR2, N8_PAIR3, N8_PAIR4, N8_PAIR5, N8_PAIR6],
         [N64_PAIR1, N64_PAIR2, N64_PAIR3, N64_PAIR4, N64_PAIR5, N64_PAIR6],
         [N128_PAIR1, N128_PAIR2, N128_PAIR3, N128_PAIR4, N128_PAIR5, N128_PAIR6],
         [N256_PAIR1, N256_PAIR2, N256_PAIR3, N256_PAIR4, N256_PAIR5, N256_PAIR6],
         [N512_PAIR1, N512_PAIR2, N512_PAIR3, N512_PAIR4, N512_PAIR5, N512_PAIR6]]
TOTALS = [N4_TOTAL, N8_TOTAL, N64_TOTAL, N128_TOTAL, N256_TOTAL, N512_TOTAL]

PAIR_COLORS = ['tab:orange', 'tab:green', 'tab:red', 'tab:purple', 'tab:brown', 'tab:pink']
TOTAL_STYLE = ['--', '--', '--', '--', '-', '--']
LABEL_Y = [0.826, 0.798, 0.787, 0.815, 0.798, 0.815]


def pair_curve(env, segs):
    # envelope with the pair's dips spliced in
    pts = [p for s in segs for p in s]
    for x, y in env:
        if not any(s[0][0] <= x <= s[-1][0] for s in segs):
            pts.append((x, y))
    pts.sort()
    return [p[0] for p in pts], [p[1] for p in pts]


fig, axes = plt.subplots(6, 1, figsize=(8.89, 17.14), dpi=100)
fig.subplots_adjust(left=0.0877, right=0.998, top=0.9942, bottom=0.0338, hspace=0.131)

for i, ax in enumerate(axes):
    for k, segs in enumerate(PAIRS[i]):
        xs, ys = pair_curve(ENVS[i], segs)
        ax.plot(xs, ys, color=PAIR_COLORS[k], lw=1.8, label=PAIR_LABELS[k], zorder=2)
    tx, ty = zip(*TOTALS[i])
    ax.plot(tx, ty, color='k', ls=TOTAL_STYLE[i], lw=1.4, label='Total', zorder=2.5)
    px, py = zip(*POINTS[i])
    ax.scatter(px, py, s=24, color='tab:blue', linewidths=0, zorder=3)

    ax.set_xticks(X_TICKS[i])
    ax.set_yticks(Y_TICKS[i])
    ax.tick_params(labelsize=14)
    ax.set_ylabel('State fidelity', fontsize=14)
    ax.text(0.561, LABEL_Y[i], N_LABELS[i], transform=ax.transAxes, fontsize=15,
            color='0.2', ha='left', va='center')

axes[0].legend(ncol=2, loc='upper right', frameon=False, fontsize=11.5,
               labelspacing=0.3, handlelength=2.1)
axes[-1].set_xlabel(r'$\tau$ ($\mu$s)', fontsize=14)
fig.align_ylabels(axes)

fig.savefig('out.png', dpi=100)
